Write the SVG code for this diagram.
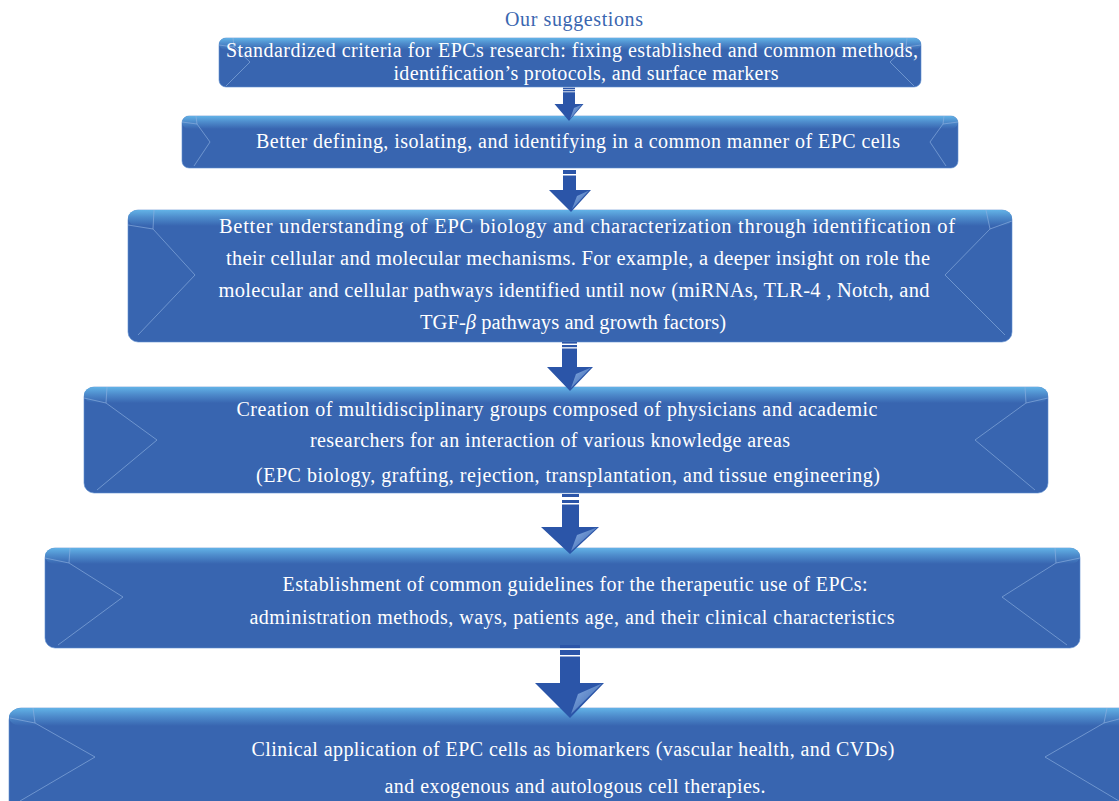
<svg xmlns="http://www.w3.org/2000/svg" width="1119" height="801" viewBox="0 0 1119 801">
<defs>
<linearGradient id="topband" x1="0" y1="0" x2="0" y2="1">
<stop offset="0" stop-color="#62B2E6"/>
<stop offset="0.45" stop-color="#4E8CCC"/>
<stop offset="1" stop-color="#3865B0"/>
</linearGradient>
<linearGradient id="hl" x1="0" y1="0" x2="1" y2="1">
<stop offset="0" stop-color="#8FB4E6"/>
<stop offset="1" stop-color="#2F5BAA"/>
</linearGradient>
<style>
.box{fill:#3865B0;stroke:#5E8FD0;stroke-width:0.6}
.band{fill:url(#topband)}
.deco{fill:none;stroke:#8DB0E0;stroke-width:0.8;opacity:0.8}
.t{font-family:"Liberation Serif","Times New Roman",serif;font-size:20px;fill:#ffffff;text-anchor:middle}
.t3{font-size:20.5px}
.title{font-family:"Liberation Serif","Times New Roman",serif;font-size:20px;fill:#3A66B0;text-anchor:middle}
.arr{fill:#2B55A8}
.hl{fill:url(#hl)}
</style>
</defs>
<rect width="1119" height="801" fill="#ffffff"/>
<text class="title" x="574" y="26" textLength="138" lengthAdjust="spacing">Our suggestions</text>

<g id="node1">
<rect class="box" x="219" y="38" width="702" height="49" rx="7"/>
<rect class="band" x="219" y="38" width="702" height="12" rx="7"/>
<path class="deco" d="M233 38 L234 47 L219 45 M234 47 L250 62 L226 86 M907 38 L906 47 L921 45 M906 47 L890 62 L914 86"/>
<text class="t" x="572" y="57" textLength="692" lengthAdjust="spacing">Standardized criteria for EPCs research: fixing established and common methods,</text>
<text class="t" x="586" y="80" textLength="385" lengthAdjust="spacing">identification’s protocols, and surface markers</text>
</g>

<g id="node2">
<rect class="box" x="182" y="116" width="776" height="52" rx="7"/>
<rect class="band" x="182" y="116" width="776" height="13" rx="7"/>
<path class="deco" d="M196 116 L197 124 L182 122 M197 124 L210 142 L194 166 M944 116 L943 124 L958 122 M943 124 L930 142 L946 166"/>
<text class="t" x="578" y="148" textLength="644" lengthAdjust="spacing">Better defining, isolating, and identifying in a common manner of EPC cells</text>
</g>

<g id="node3">
<rect class="box" x="128" y="210" width="884" height="132" rx="10"/>
<rect class="band" x="128" y="210" width="884" height="16" rx="10"/>
<path class="deco" d="M154 210 L153 229 L128 225 M153 229 L195 275 L138 335 M986 210 L990 229 L1012 221 M990 229 L945 275 L1005 335"/>
<text class="t t3" x="587" y="233" textLength="736" lengthAdjust="spacing">Better understanding of EPC biology and characterization through identification of</text>
<text class="t t3" x="578" y="265" textLength="704" lengthAdjust="spacing">their cellular and molecular mechanisms. For example, a deeper insight on role the</text>
<text class="t t3" x="574" y="297" textLength="711" lengthAdjust="spacing">molecular and cellular pathways identified until now (miRNAs, TLR-4 , Notch, and</text>
<text class="t t3" x="573" y="329" textLength="306" lengthAdjust="spacing">TGF-<tspan font-style="italic">β</tspan> pathways and growth factors)</text>
</g>

<g id="node4">
<rect class="box" x="84" y="387" width="964" height="106" rx="10"/>
<rect class="band" x="84" y="387" width="964" height="16" rx="10"/>
<path class="deco" d="M107 387 L106 403 L84 398 M106 403 L157 440 L97 490 M1025 387 L1026 403 L1048 398 M1026 403 L975 440 L1035 490"/>
<text class="t" x="557" y="416" textLength="641" lengthAdjust="spacing">Creation of multidisciplinary groups composed of physicians and academic</text>
<text class="t" x="550" y="447" textLength="480" lengthAdjust="spacing">researchers for an interaction of various knowledge areas</text>
<text class="t" x="568" y="482" textLength="624" lengthAdjust="spacing">(EPC biology, grafting, rejection, transplantation, and tissue engineering)</text>
</g>

<g id="node5">
<rect class="box" x="45" y="548" width="1035" height="100" rx="10"/>
<rect class="band" x="45" y="548" width="1035" height="16" rx="10"/>
<path class="deco" d="M70 548 L69 563 L45 558 M69 563 L123 597 L58 645 M1055 548 L1056 563 L1080 558 M1056 563 L1002 597 L1067 645"/>
<text class="t" x="575" y="591" textLength="585" lengthAdjust="spacing">Establishment of common guidelines for the therapeutic use of EPCs:</text>
<text class="t" x="572" y="624" textLength="645" lengthAdjust="spacing">administration methods, ways, patients age, and their clinical characteristics</text>
</g>

<g id="node6">
<rect class="box" x="9" y="708" width="1140" height="120" rx="12"/>
<rect class="band" x="9" y="708" width="1140" height="18" rx="12"/>
<path class="deco" d="M33 708 L35 723 L10 718 M35 723 L95 757 L20 801 M1107 708 L1104 723 L1119 719 M1104 723 L1045 757 L1119 801"/>
<text class="t" x="573" y="756" textLength="643" lengthAdjust="spacing">Clinical application of EPC cells as biomarkers (vascular health, and CVDs)</text>
<text class="t" x="575" y="793" textLength="381" lengthAdjust="spacing">and exogenous and autologous cell therapies.</text>
</g>

<g id="connectors">
<g>
<rect class="arr" x="563" y="87.7" width="12" height="1.5"/>
<rect class="arr" x="563" y="89.8" width="12" height="1.6"/>
<polygon class="arr" points="563,92.3 575,92.3 575,104 583.5,104 569,121 554.5,104 563,104"/>
<polygon class="hl" points="570,119 574,108 582,104.5"/>
</g>
<g>
<rect class="arr" x="563" y="170" width="13" height="4"/>
<polygon class="arr" points="563,175.5 576,175.5 576,190 591,190 571,212 549,190 563,190"/>
<polygon class="hl" points="572,209 577,196 589,190.5"/>
</g>
<g>
<rect class="arr" x="562" y="342" width="15" height="1.6"/>
<rect class="arr" x="562" y="345" width="15" height="2.2"/>
<polygon class="arr" points="562,348.5 577,348.5 577,367 593,367 570,391 547,367 562,367"/>
<polygon class="hl" points="571,388 576,374 591,367.5"/>
</g>
<g>
<rect class="arr" x="562" y="494" width="17" height="3"/>
<rect class="arr" x="562" y="500" width="17" height="3"/>
<polygon class="arr" points="562,504.5 579,504.5 579,527 599,527 570,554 541,527 562,527"/>
<polygon class="hl" points="571,551 577,535 597,527.5"/>
</g>
<g>
<rect class="arr" x="560" y="645" width="20" height="3"/>
<rect class="arr" x="560" y="650" width="20" height="5"/>
<polygon class="arr" points="560,656.5 580,656.5 580,683 604,683 570,718 535,683 560,683"/>
<polygon class="hl" points="571,714 578,694 602,683.5"/>
</g>
</g>
</svg>
